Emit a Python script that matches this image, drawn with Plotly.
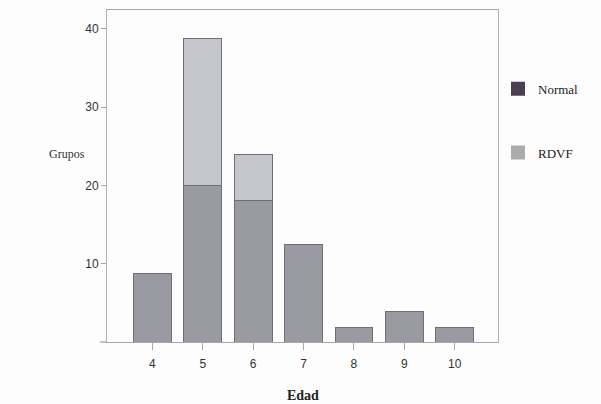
import plotly.graph_objects as go

edad = ["4", "5", "6", "7", "8", "9", "10"]
normal = [8.8, 20.0, 18.1, 12.4, 1.9, 3.9, 1.9]
rdvf = [0, 18.8, 5.9, 0, 0, 0, 0]

fig = go.Figure()
fig.add_trace(go.Bar(x=edad, y=normal, name="Normal", marker=dict(color="#9a9aa3", line=dict(color="#6e6e76", width=1)), showlegend=False))
fig.add_trace(go.Bar(x=edad, y=rdvf, name="RDVF", marker=dict(color="#c6c6cd", line=dict(color="#6e6e76", width=1)), showlegend=False))
# legend entries (swatch colours as in the reference legend)
fig.add_trace(go.Scatter(x=[None], y=[None], mode="markers", name="Normal", legendgroup="a",
                         marker=dict(symbol="square", size=14, color="#4b4052")))
fig.add_trace(go.Scatter(x=[None], y=[None], mode="markers", name="RDVF", legendgroup="b",
                         marker=dict(symbol="square", size=14, color="#ababab")))

fig.update_layout(
    width=601, height=404,
    margin=dict(l=107, r=103, t=10, b=62),
    barmode="stack", bargap=0.25,
    paper_bgcolor="#fdfdfd", plot_bgcolor="#fdfdfd",
    font=dict(family="Liberation Sans", size=12, color="#333"),
    legend=dict(x=1.0, y=0.808, xanchor="left", yanchor="top", traceorder="grouped",
                tracegroupgap=44, font=dict(family="Liberation Serif", size=13, color="#222"),
                bgcolor="rgba(0,0,0,0)"),
    xaxis=dict(range=[-0.9, 6.86], showgrid=False, showline=True, linecolor="#a8a8a8", mirror=True,
               ticks="outside", ticklen=7, tickcolor="#a8a8a8", ticklabelstandoff=4, zeroline=False),
    yaxis=dict(range=[0, 42.4], tickvals=[10, 20, 30, 40], showgrid=False, showline=True, linecolor="#b4b4b4",
               mirror=True, ticks="outside", ticklen=5, tickcolor="#a8a8a8", zeroline=False),
    annotations=[
        dict(text="Grupos", xref="paper", yref="paper", x=-0.154, y=0.566, showarrow=False,
             font=dict(family="Liberation Serif", size=12, color="#333")),
        dict(text="<b>Edad</b>", xref="paper", yref="paper", x=0.5, y=-0.161, yanchor="middle", showarrow=False,
             font=dict(family="Liberation Serif", size=14, color="#222")),
    ],
    shapes=[dict(type="line", xref="paper", yref="paper", x0=-0.018, x1=0, y0=0, y1=0,
                 line=dict(color="#8a8a8a", width=1))],
)
fig.write_html("out.html", config={"displayModeBar": False},
               post_script="document.body.style.margin='0';")
